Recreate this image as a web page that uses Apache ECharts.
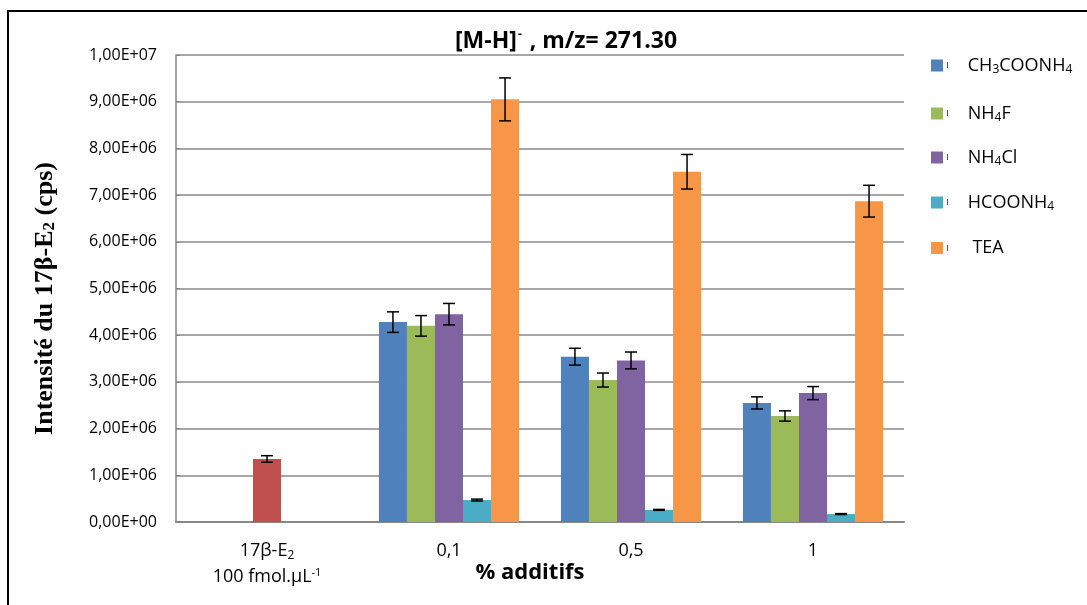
<!DOCTYPE html>
<html>
<head>
<meta charset="utf-8">
<script src="https://cdn.jsdelivr.net/npm/echarts@6/dist/echarts.min.js"></script>
<style>
  html, body { margin: 0; padding: 0; background: #fff; }
  #main { width: 1087px; height: 605px; }
</style>
</head>
<body>
<div id="main"></div>
<script>
// categories (x axis)
const categories = ['17β-E2', '0,1', '0,5', '1'];

// bar heights (cps) and error bars
const ch3coonh4 = ['-', 4.28e6, 3.54e6, 2.55e6];
const ch3coonh4Err = [0, 0.22e6, 0.18e6, 0.13e6];
const nh4f = ['-', 4.20e6, 3.04e6, 2.27e6];
const nh4fErr = [0, 0.22e6, 0.15e6, 0.11e6];
const nh4cl = ['-', 4.45e6, 3.46e6, 2.76e6];
const nh4clErr = [0, 0.23e6, 0.18e6, 0.14e6];
const hcoonh4 = ['-', 0.47e6, 0.26e6, 0.17e6];
const hcoonh4Err = [0, 0.02e6, 0.01e6, 0.01e6];
const tea = ['-', 9.05e6, 7.50e6, 6.87e6];
const teaErr = [0, 0.46e6, 0.37e6, 0.34e6];
// reference (no additive)
const e2 = [1.35e6, '-', '-', '-'];
const e2Err = [0.07e6, 0, 0, 0];

const yTicks = { min: 0, max: 1e7, interval: 1e6 };

const seriesNames = ['CH3COONH4', 'NH4F', 'NH4Cl', 'HCOONH4', 'TEA'];
const legendRich = {
  'CH3COONH4': '{m|ı}{g|}{n|CH}{sb|3}{n|COONH}{sb|4}',
  'NH4F': '{m|ı}{g|}{n|NH}{sb|4}{n|F}',
  'NH4Cl': '{m|ı}{g|}{n|NH}{sb|4}{n|Cl}',
  'HCOONH4': '{m|ı}{g|}{n|HCOONH}{sb|4}',
  'TEA': '{m|ı}{g|}{n| TEA}'
};
const colors = ['#4F81BD', '#9BBB59', '#8064A2', '#4BACC6', '#F79646', '#C0504D'];

const catGap = 0.23;

function sci(v) {
  if (v === 0) return '0,00E+00';
  const e = Math.floor(Math.log10(v) + 1e-9);
  const m = v / Math.pow(10, e);
  return m.toFixed(2).replace('.', ',') + 'E+' + String(e).padStart(2, '0');
}

const subRich = {
  n: { fontSize: 18, lineHeight: 22, fontFamily: 'Open Sans', color: '#000' },
  sb: { fontSize: 12, lineHeight: 12, padding: [9, 0, 0, 0], fontFamily: 'Open Sans', color: '#000' },
  sp: { fontSize: 11, lineHeight: 11, padding: [0, 0, 9, 0], fontFamily: 'Open Sans', color: '#000' },
  m: { fontSize: 10, lineHeight: 10, color: '#333', padding: [0, 0, 0, -2] },
  g: { width: 19 }
};
const axisRich = {
  n: { fontSize: 18, lineHeight: 26, fontFamily: 'Open Sans', color: '#000' },
  sb: { fontSize: 12, lineHeight: 12, padding: [9, 0, 0, 0], fontFamily: 'Open Sans', color: '#000' },
  sp: { fontSize: 11, lineHeight: 11, padding: [0, 0, 9, 0], fontFamily: 'Open Sans', color: '#000' }
};

// error bars drawn through the axes
function errSeries(vals, errs, slot) {
  const data = [];
  vals.forEach(function (v, i) {
    if (v !== '-') data.push([i, v, errs[i]]);
  });
  return {
    type: 'custom',
    z: 5,
    data: data,
    encode: { x: 0, y: 1 },
    renderItem: function (params, api) {
      const band = api.size([1, 0])[0];
      const bw = band * (1 - catGap) / 5;
      const v = api.value(1), e = api.value(2);
      const top = api.coord([api.value(0), v + e]);
      const bot = api.coord([api.value(0), v - e]);
      const cx = top[0] + slot * bw;
      const hw = 6;
      const st = { stroke: '#000', lineWidth: 1.5 };
      return {
        type: 'group',
        children: [
          { type: 'line', shape: { x1: cx, y1: top[1], x2: cx, y2: bot[1] }, style: st },
          { type: 'line', shape: { x1: cx - hw, y1: top[1], x2: cx + hw, y2: top[1] }, style: st },
          { type: 'line', shape: { x1: cx - hw, y1: bot[1], x2: cx + hw, y2: bot[1] }, style: st }
        ]
      };
    }
  };
}

const chart = echarts.init(document.getElementById('main'), null, { renderer: 'canvas' });

const barVals = [ch3coonh4, nh4f, nh4cl, hcoonh4, tea];
const barErrs = [ch3coonh4Err, nh4fErr, nh4clErr, hcoonh4Err, teaErr];

const series = [];
barVals.forEach(function (vals, k) {
  series.push({
    name: seriesNames[k],
    type: 'bar',
    data: vals,
    stack: 'slot' + k,
    barGap: '0%',
    barCategoryGap: (catGap * 100) + '%',
    itemStyle: { color: colors[k] }
  });
});
// 17β-E2 bar sits in the middle slot
series.push({
  name: '17β-E2',
  type: 'bar',
  data: e2,
  stack: 'slot2',
  itemStyle: { color: colors[5] }
});
barVals.forEach(function (vals, k) {
  series.push(errSeries(vals, barErrs[k], k - 2));
});
series.push(errSeries(e2, e2Err, 0));

const legendTops = [50, 98, 142, 187, 234];
const legends = seriesNames.map(function (nm, k) {
  return {
    data: [nm],
    orient: 'vertical',
    left: 926,
    top: legendTops[k],
    icon: 'rect',
    itemWidth: 12,
    itemHeight: 12,
    selectedMode: false,
    formatter: function (name) { return legendRich[name]; },
    textStyle: { rich: subRich }
  };
});

const option = {
  backgroundColor: '#fff',
  animation: false,
  color: colors,
  title: {
    text: '{t|[M-H]}{ts|-}{t| , m/z= 271.30}',
    left: 450,
    top: 21,
    textStyle: {
      rich: {
        t: { fontSize: 23, fontWeight: 'bold', fontFamily: 'Open Sans', color: '#000', lineHeight: 30 },
        ts: { fontSize: 12, fontWeight: 'bold', fontFamily: 'Open Sans', color: '#000', lineHeight: 12, padding: [0, 2, 12, 1] }
      }
    }
  },
  legend: legends,
  grid: { left: 176, right: 183, top: 55, bottom: 83, containLabel: false, outerBoundsMode: 'none' },
  xAxis: {
    type: 'category',
    data: categories,
    name: '% additifs',
    nameLocation: 'middle',
    nameGap: 40,
    nameMoveOverlap: false,
    nameTextStyle: { fontSize: 22, fontWeight: 'bold', fontFamily: 'Open Sans', color: '#000', padding: [0, 20, 0, 0] },
    axisLine: { lineStyle: { color: '#868686', width: 2 } },
    axisTick: { show: false },
    axisLabel: {
      margin: 16,
      formatter: function (v) {
        if (v === '17β-E2') return '{n|17β-E}{sb|2}\n{n|100 fmol.µL}{sp|-1}';
        return '{n|' + v + '}';
      },
      rich: axisRich
    }
  },
  yAxis: {
    type: 'value',
    min: yTicks.min,
    max: yTicks.max,
    interval: yTicks.interval,
    name: '{a|Intensité du 17β-E}{b|2}{a| (cps)}',
    nameLocation: 'middle',
    nameGap: 115,
    nameTextStyle: {
      padding: [0, 20, 0, 0],
      rich: {
        a: { fontSize: 26, fontWeight: 'bold', fontFamily: 'Liberation Serif', color: '#000', lineHeight: 32 },
        b: { fontSize: 17, fontWeight: 'bold', fontFamily: 'Liberation Serif', color: '#000', lineHeight: 17, padding: [10, 0, 0, 0] }
      }
    },
    axisLine: { show: true, lineStyle: { color: '#868686', width: 1.5 } },
    axisTick: { show: true, inside: true, length: 4, lineStyle: { color: '#868686' } },
    splitLine: { lineStyle: { color: '#8a8a8a', width: 1.5 } },
    axisLabel: {
      margin: 19,
      fontSize: 16,
      fontFamily: 'Open Sans',
      color: '#000',
      formatter: sci
    }
  },
  graphic: [
    {
      type: 'polyline',
      shape: { points: [[8, 605], [8, 11], [1087, 11]] },
      style: { stroke: '#000', lineWidth: 2, fill: null }
    }
  ],
  series: series
};

chart.setOption(option);
</script>
</body>
</html>
